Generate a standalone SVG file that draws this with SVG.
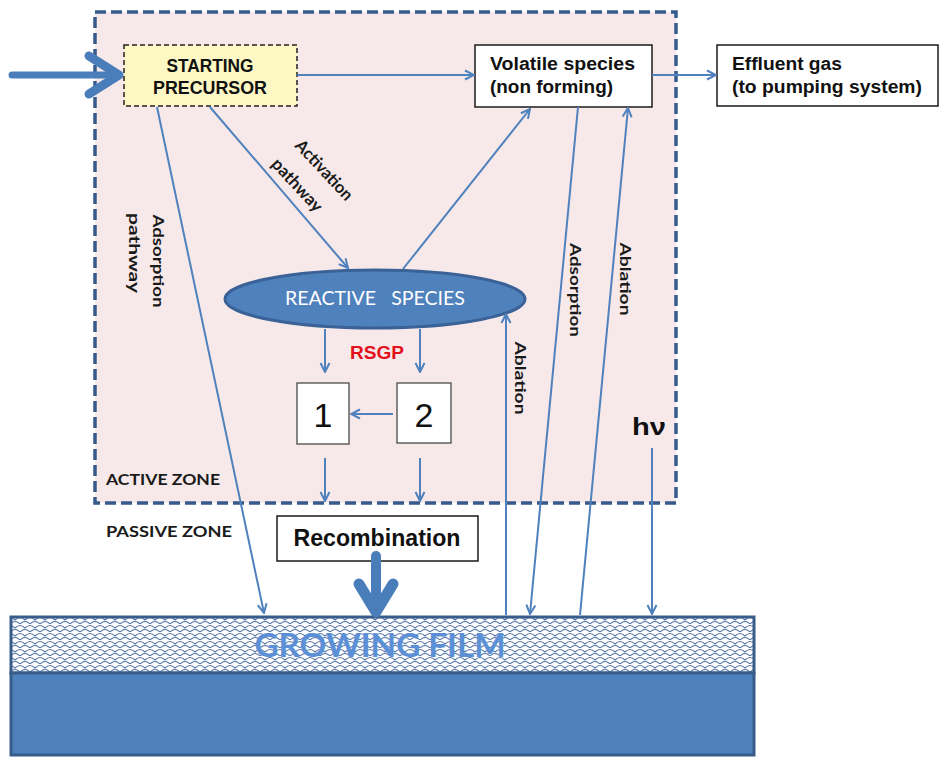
<svg xmlns="http://www.w3.org/2000/svg" width="944" height="758" viewBox="0 0 944 758">
<style>
.box{fill:#ffffff;stroke:#1a1a1a;stroke-width:1.5}
.num{fill:#ffffff;stroke:#4a4a4a;stroke-width:1.3}
.bt{font-family:"Liberation Sans",Arial,sans-serif;font-weight:bold;fill:#111}
.lb{font-family:Lato,"Liberation Sans",sans-serif;font-weight:bold;fill:#1a1a1a}
.ln{stroke:#4f81bd;stroke-width:2;fill:none}
.thick{stroke:#4a7ebb;fill:none;stroke-linecap:round;stroke-linejoin:round}
</style>
<defs>
<marker id="arr" viewBox="0 0 12 12" refX="11" refY="6" markerWidth="12" markerHeight="12" markerUnits="userSpaceOnUse" orient="auto">
<path d="M2,1.5 L11,6 L2,10.5" fill="none" stroke="#4f81bd" stroke-width="2"/>
</marker>
<pattern id="scales" width="10" height="8" patternUnits="userSpaceOnUse">
<rect width="10" height="8" fill="#ffffff"/>
<path d="M0,8 Q5,3 10,8 M-5,4 Q0,-1 5,4 M5,4 Q10,-1 15,4" fill="none" stroke="#5474a6" stroke-width="1.1"/>
</pattern>
</defs>

<g id="active-zone">
<rect x="95" y="12" width="581" height="491" fill="#f7e9e9" stroke="#375a8c" stroke-width="3.5" stroke-dasharray="11,5"/>
<text class="lb" x="106" y="485" font-size="15" textLength="114" lengthAdjust="spacingAndGlyphs">ACTIVE ZONE</text>
</g>
<g id="passive-zone">
<text class="lb" x="106" y="537" font-size="15" textLength="126" lengthAdjust="spacingAndGlyphs">PASSIVE ZONE</text>
</g>

<g id="film">
<rect x="11" y="617" width="743" height="56" fill="url(#scales)" stroke="#385d8a" stroke-width="3"/>
<rect x="11" y="673" width="743" height="82" fill="#4f81bd" stroke="#385d8a" stroke-width="3"/>
<text x="380" y="657" text-anchor="middle" font-family="Lato,'Liberation Sans',sans-serif" font-weight="bold" font-size="32" fill="#5b8fd6" textLength="251" lengthAdjust="spacingAndGlyphs">GROWING FILM</text>
</g>

<g id="starting-precursor">
<rect x="124" y="45" width="173" height="61" fill="#fdf7c3" stroke="#222" stroke-width="1.5" stroke-dasharray="5,3"/>
<text class="bt" x="210" y="72" font-size="19" text-anchor="middle" textLength="87" lengthAdjust="spacingAndGlyphs">STARTING</text>
<text class="bt" x="210" y="94" font-size="19" text-anchor="middle" textLength="114" lengthAdjust="spacingAndGlyphs">PRECURSOR</text>
</g>

<g id="volatile-species">
<rect class="box" x="475" y="45" width="177" height="62"/>
<text class="bt" x="490" y="70" font-size="18" textLength="145" lengthAdjust="spacingAndGlyphs">Volatile species</text>
<text class="bt" x="490" y="93" font-size="18" textLength="123" lengthAdjust="spacingAndGlyphs">(non forming)</text>
</g>

<g id="effluent-gas">
<rect class="box" x="717" y="45" width="221" height="61"/>
<text class="bt" x="732" y="70" font-size="18" textLength="110" lengthAdjust="spacingAndGlyphs">Effluent gas</text>
<text class="bt" x="732" y="93" font-size="18" textLength="190" lengthAdjust="spacingAndGlyphs">(to pumping system)</text>
</g>

<g id="reactive-species">
<ellipse cx="375" cy="299" rx="150" ry="29" fill="#4f81bd" stroke="#3a6296" stroke-width="3"/>
<text x="375" y="305" text-anchor="middle" font-family="Lato,'Liberation Sans',sans-serif" font-size="20" fill="#ffffff" textLength="180" lengthAdjust="spacingAndGlyphs" xml:space="preserve">REACTIVE   SPECIES</text>
</g>

<g id="rsgp">
<text x="377" y="359" text-anchor="middle" font-family="'Liberation Sans',Arial,sans-serif" font-weight="bold" font-size="19" fill="#e3111b" textLength="54" lengthAdjust="spacingAndGlyphs">RSGP</text>
</g>

<g id="box-1">
<rect class="num" x="297" y="383" width="52" height="61"/>
<text x="323" y="427" text-anchor="middle" font-family="'Liberation Sans',Arial,sans-serif" font-size="34" fill="#111">1</text>
</g>
<g id="box-2">
<rect class="num" x="397" y="383" width="54" height="60"/>
<text x="424" y="427" text-anchor="middle" font-family="'Liberation Sans',Arial,sans-serif" font-size="34" fill="#111">2</text>
</g>

<g id="recombination">
<rect class="box" x="277" y="516" width="201" height="45"/>
<text class="bt" x="377" y="546" font-size="23" text-anchor="middle" textLength="167" lengthAdjust="spacingAndGlyphs">Recombination</text>
</g>

<g id="hv">
<text class="bt" x="632" y="435" font-size="24" textLength="34" lengthAdjust="spacingAndGlyphs">hν</text>
</g>

<g id="connectors">
<line class="ln" x1="297" y1="75" x2="474" y2="75" marker-end="url(#arr)"/>
<line class="ln" x1="652" y1="75" x2="716" y2="75" marker-end="url(#arr)"/>
<line class="ln" x1="157" y1="107" x2="264" y2="613" marker-end="url(#arr)"/>
<line class="ln" x1="210" y1="107" x2="348" y2="268" marker-end="url(#arr)"/>
<line class="ln" x1="403" y1="269" x2="530" y2="109" marker-end="url(#arr)"/>
<line class="ln" x1="325" y1="329" x2="325" y2="372" marker-end="url(#arr)"/>
<line class="ln" x1="420" y1="329" x2="420" y2="372" marker-end="url(#arr)"/>
<line class="ln" x1="393" y1="414" x2="351" y2="414" marker-end="url(#arr)"/>
<line class="ln" x1="325" y1="458" x2="325" y2="501" marker-end="url(#arr)"/>
<line class="ln" x1="420" y1="458" x2="420" y2="501" marker-end="url(#arr)"/>
<line class="ln" x1="506" y1="615" x2="506" y2="314" marker-end="url(#arr)"/>
<line class="ln" x1="578" y1="107" x2="530" y2="614" marker-end="url(#arr)"/>
<line class="ln" x1="580" y1="615" x2="628" y2="108" marker-end="url(#arr)"/>
<line class="ln" x1="652" y1="448" x2="652" y2="614" marker-end="url(#arr)"/>
<line class="thick" x1="12" y1="75" x2="116" y2="75" stroke-width="7"/>
<polyline class="thick" points="89,56 119,75 89,94" stroke-width="9"/>
<line class="thick" x1="376" y1="556" x2="376" y2="608" stroke-width="10"/>
<polyline class="thick" points="359,584 376,612 393,584" stroke-width="11"/>
<text class="lb" transform="translate(320,174) rotate(47)" font-size="17" text-anchor="middle" textLength="76" lengthAdjust="spacingAndGlyphs">Activation</text>
<text class="lb" transform="translate(293,189) rotate(47)" font-size="17" text-anchor="middle" textLength="66" lengthAdjust="spacingAndGlyphs">pathway</text>
<text class="lb" transform="translate(153,261) rotate(90)" font-size="16" text-anchor="middle" textLength="93" lengthAdjust="spacingAndGlyphs">Adsorption</text>
<text class="lb" transform="translate(129,253) rotate(90)" font-size="16" text-anchor="middle" textLength="80" lengthAdjust="spacingAndGlyphs">pathway</text>
<text class="lb" transform="translate(570,290) rotate(90)" font-size="16" text-anchor="middle" textLength="94" lengthAdjust="spacingAndGlyphs">Adsorption</text>
<text class="lb" transform="translate(620,279) rotate(90)" font-size="16" text-anchor="middle" textLength="73" lengthAdjust="spacingAndGlyphs">Ablation</text>
<text class="lb" transform="translate(515,378) rotate(90)" font-size="16" text-anchor="middle" textLength="73" lengthAdjust="spacingAndGlyphs">Ablation</text>
</g>
</svg>
